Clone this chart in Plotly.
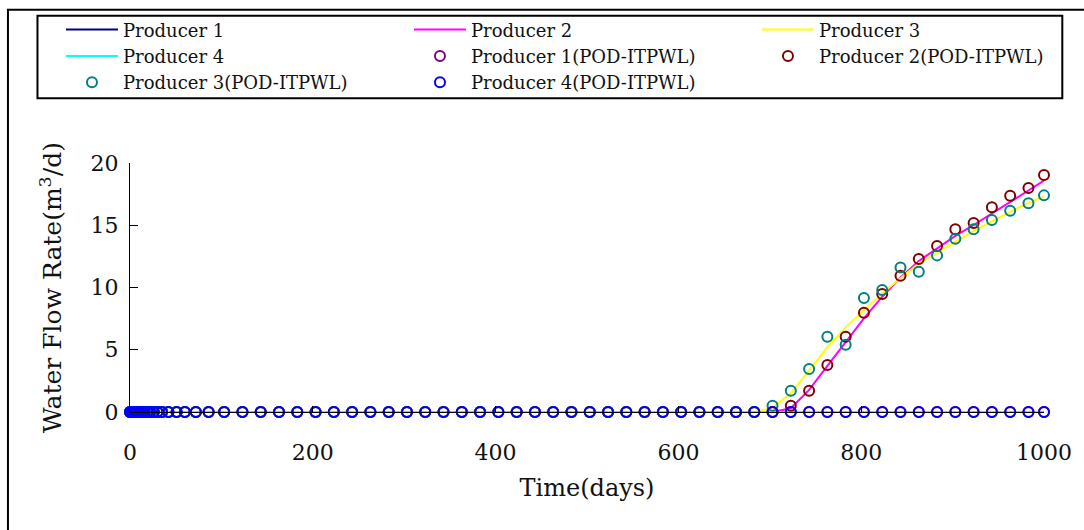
import plotly.graph_objects as go

# Simulation report times (days); all producers produce no water before breakthrough
early_days = [0, 0.5, 1, 2, 3, 4, 5, 6, 7, 8, 10, 12, 14, 16, 19, 22, 26, 30, 35,
              42, 51, 60, 72, 86, 103, 123, 143, 163, 183, 203, 223, 243, 263, 283,
              303, 323, 343, 363, 383, 403, 423, 443, 463, 483, 503, 523, 543, 563,
              583, 603, 623, 643, 663, 683]
late_days = [703, 723, 743, 763, 783, 803, 823, 843, 863, 883, 903, 923, 943, 963,
             983, 1000]

# Water flow rate (m3/d) after breakthrough, full-order model
p1_late = [0, 0, 0, 0, 0, 0, 0, 0, 0, 0, 0, 0, 0, 0, 0, 0]
p2_late = [0, 0.3, 1.77, 3.7, 5.65, 7.52, 9.26, 10.8, 12.13, 13.15, 14.14, 15.02,
           15.96, 16.9, 17.78, 18.58]
p3_late = [0.35, 1.5, 3.32, 5.2, 6.8, 8.19, 9.53, 10.75, 11.94, 12.8, 13.68, 14.54,
           15.34, 16.09, 16.81, 17.3]
p4_late = [0, 0, 0, 0, 0, 0, 0, 0, 0, 0, 0, 0, 0, 0, 0, 0]

# Water flow rate (m3/d) after breakthrough, POD-ITPWL reduced model
p1_pod_late = [0, 0, 0, 0, 0, 0, 0, 0, 0, 0, 0, 0, 0, 0, 0, 0]
p2_pod_late = [0, 0.5, 1.71, 3.77, 6.05, 7.98, 9.48, 10.95, 12.29, 13.33, 14.67,
               15.18, 16.45, 17.37, 18.0, 19.04]
p3_pod_late = [0.5, 1.71, 3.45, 6.05, 5.4, 9.15, 9.8, 11.6, 11.27, 12.58, 13.92,
               14.67, 15.42, 16.17, 16.76, 17.4]
p4_pod_late = [0, 0, 0, 0, 0, 0, 0, 0, 0, 0, 0, 0, 0, 0, 0, 0]

x_ticks = [0, 200, 400, 600, 800, 1000]
y_ticks = [0, 5, 10, 15, 20]

days = early_days + late_days
zeros = [0.0 for _ in early_days]

lines = [
    ("Producer 1", p1_late, "#00008B"),
    ("Producer 2", p2_late, "#FF00FF"),
    ("Producer 3", p3_late, "#FFFF00"),
    ("Producer 4", p4_late, "#00FFFF"),
]
pods = [
    ("Producer 1(POD-ITPWL)", p1_pod_late, "#800080"),
    ("Producer 2(POD-ITPWL)", p2_pod_late, "#800000"),
    ("Producer 3(POD-ITPWL)", p3_pod_late, "#008080"),
    ("Producer 4(POD-ITPWL)", p4_pod_late, "#0000FF"),
]

FONT = "DejaVu Serif"
TEXT = "#111111"
W, H = 1084, 530
L, R, T, B = 130, 40.3, 162.5, 118
PW, PH = W - L - R, H - T - B

def px_x(px):
    return (px - L) / PW

def px_y(py):
    return (H - B - py) / PH

fig = go.Figure()
for name, vals, color in lines:
    fig.add_trace(go.Scatter(x=days, y=zeros + vals, mode="lines", name=name,
                             line=dict(color=color, width=2), cliponaxis=False))
for name, vals, color in pods:
    fig.add_trace(go.Scatter(x=days, y=zeros + vals, mode="markers", name=name,
                             marker=dict(symbol="circle-open", size=10, color=color,
                                         line=dict(width=2, color=color)),
                             cliponaxis=False))

fig.update_layout(
    width=W, height=H,
    margin=dict(l=L, r=R, t=T, b=B, autoexpand=False),
    paper_bgcolor="white", plot_bgcolor="white",
    font=dict(family=FONT, color=TEXT),
    showlegend=True,
    legend=dict(
        orientation="h", x=px_x(61), xanchor="left", y=px_y(10.5), yanchor="top",
        bgcolor="rgba(0,0,0,0)", borderwidth=0, itemwidth=52,
        entrywidth=281, entrywidthmode="pixels",
        font=dict(family=FONT, size=18, color=TEXT),
    ),
    xaxis=dict(
        range=[0, 1000], tickvals=x_ticks, ticks="inside", ticklen=6, tickwidth=1,
        tickcolor="black", showline=True, linecolor="black", linewidth=1,
        showgrid=False, zeroline=False, ticklabelstandoff=21,
        tickfont=dict(family=FONT, size=22, color=TEXT),
        title=dict(text="Time(days)", standoff=14,
                   font=dict(family=FONT, size=24, color=TEXT)),
    ),
    yaxis=dict(
        range=[0, 20], tickvals=y_ticks, ticks="inside", ticklen=8, tickwidth=1,
        tickcolor="black", showline=True, linecolor="black", linewidth=1,
        showgrid=False, zeroline=False, ticklabelstandoff=6,
        tickfont=dict(family=FONT, size=22, color=TEXT),
        title=dict(text="Water Flow Rate(m<sup>3</sup>/d)", standoff=21,
                   font=dict(family=FONT, size=25, color=TEXT)),
    ),
    shapes=[
        # outer frame
        dict(type="rect", xref="paper", yref="paper", x0=px_x(8), x1=px_x(1100),
             y0=px_y(545), y1=px_y(9), line=dict(color="black", width=2),
             fillcolor="rgba(0,0,0,0)", layer="below"),
        # legend box
        dict(type="rect", xref="paper", yref="paper", x0=px_x(37.5), x1=px_x(1062),
             y0=px_y(97.5), y1=px_y(15), line=dict(color="black", width=2),
             fillcolor="rgba(0,0,0,0)", layer="below"),
    ],
)

fig.write_html("out.html")
